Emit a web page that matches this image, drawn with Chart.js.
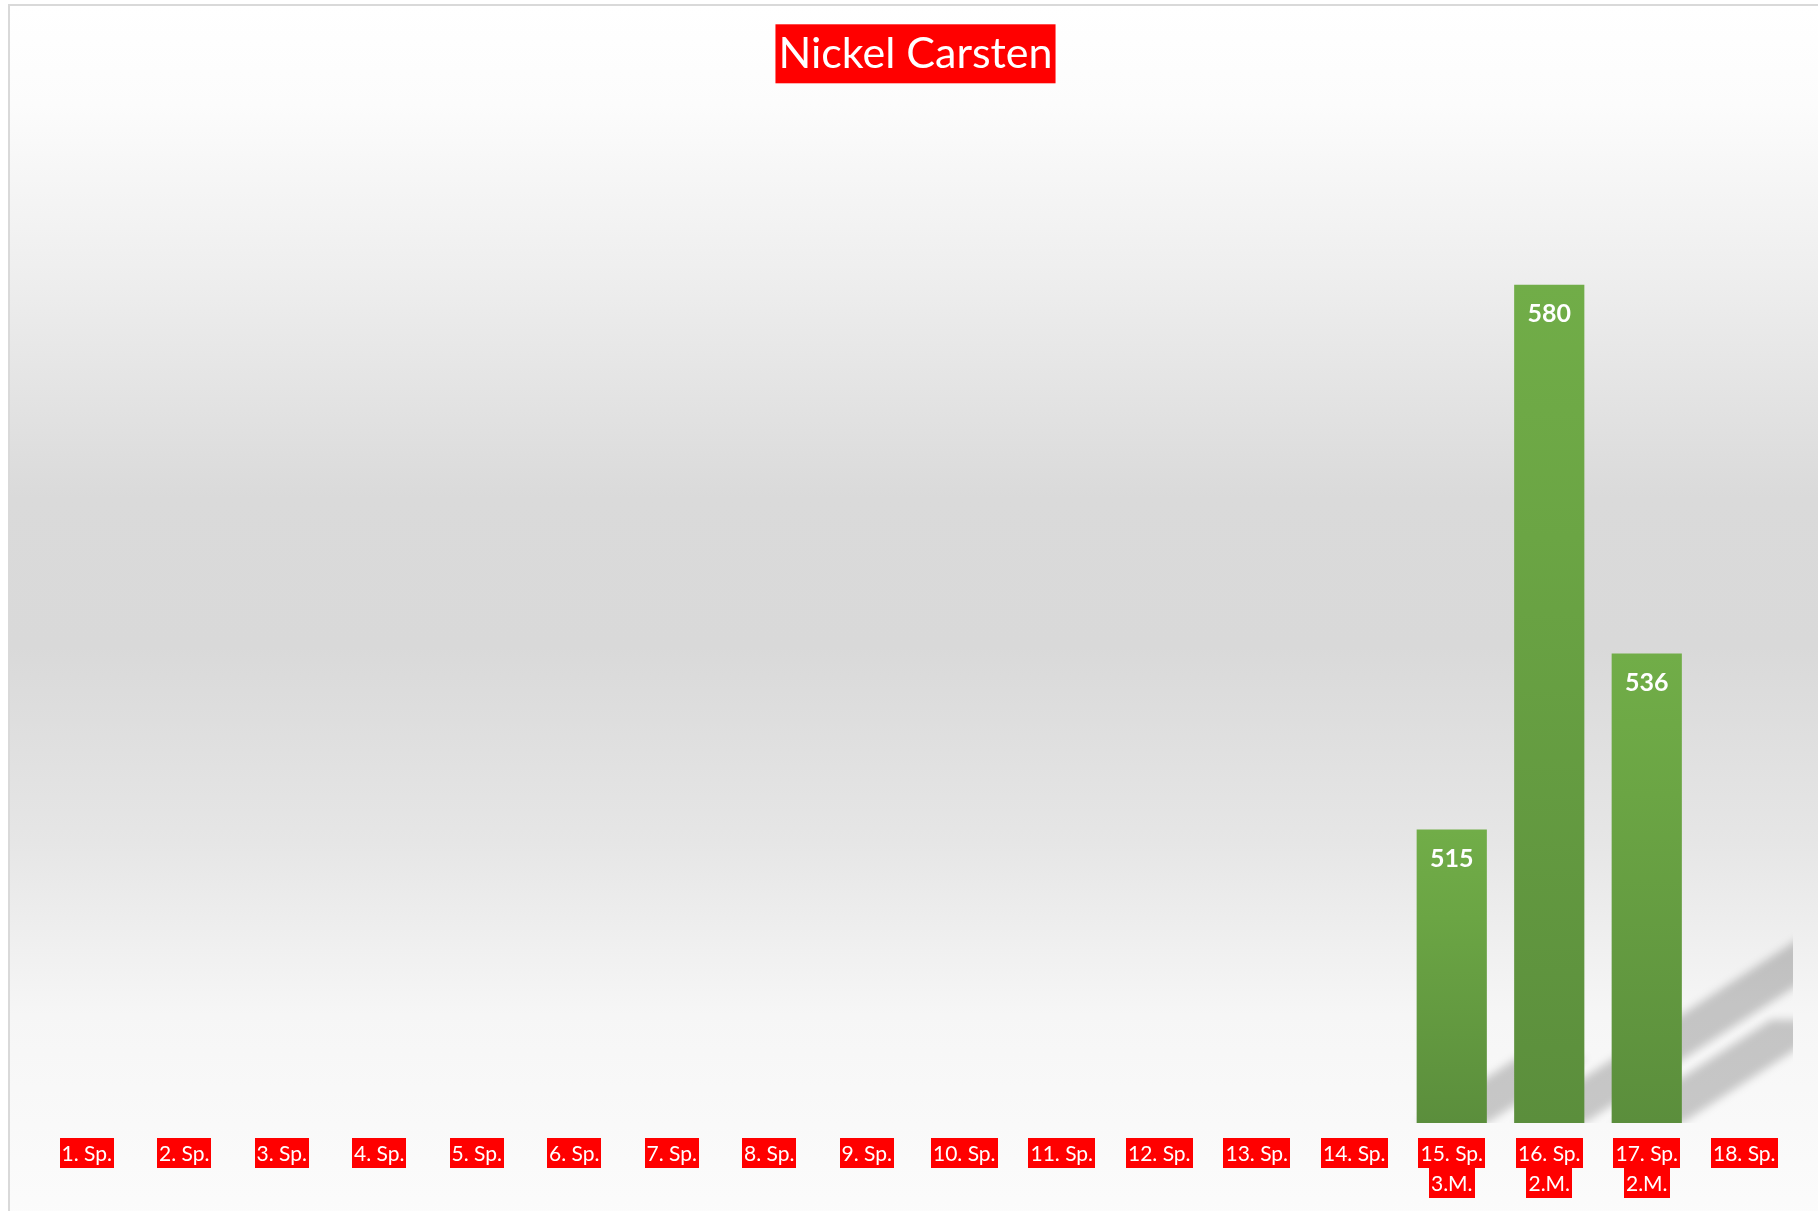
<!DOCTYPE html>
<html>
<head>
<meta charset="utf-8">
<script src="https://cdn.jsdelivr.net/npm/chart.js@4.4.0/dist/chart.umd.min.js"></script>
<style>
  html, body { margin: 0; padding: 0; width: 1818px; height: 1211px; overflow: hidden; background: #ffffff; }
  #frame {
    position: absolute; left: 8px; top: 4px; width: 1830px; height: 1230px;
    border-top: 2px solid #d9d9d9; border-left: 2px solid #d9d9d9;
    background: linear-gradient(to bottom, #ffffff 0%, #fcfcfc 8%, #eeeeee 22%, #dadada 40%, #d9d9d9 52%, #e6e6e6 68%, #f6f6f6 82%, #fcfcfc 100%);
  }
  #wrap { position: absolute; left: 0; top: 0; width: 1818px; height: 1211px; }
</style>
</head>
<body>
<div id="frame"></div>
<div id="wrap"><canvas id="c" width="1818" height="1211"></canvas></div>
<script>
const chartTitle = 'Nickel Carsten';
const categories = [
  '1. Sp.', '2. Sp.', '3. Sp.', '4. Sp.', '5. Sp.', '6. Sp.', '7. Sp.', '8. Sp.', '9. Sp.',
  '10. Sp.', '11. Sp.', '12. Sp.', '13. Sp.', '14. Sp.',
  ['15. Sp.', '3.M.'], ['16. Sp.', '2.M.'], ['17. Sp.', '2.M.'], '18. Sp.'
];
const seriesValues = [null, null, null, null, null, null, null, null, null,
  null, null, null, null, null, 515, 580, 536, null];
const yMin = 480;
const yMax = 600;

const FONT = 'Lato, "Noto Sans", sans-serif';
const TITLE_SIZE = 43;

const titleBackdrop = {
  id: 'titleBackdrop',
  beforeDraw(chart) {
    const tb = chart.titleBlock;
    if (!tb) return;
    const ctx = chart.ctx;
    ctx.save();
    ctx.font = TITLE_SIZE + 'px ' + FONT;
    const w = ctx.measureText(chartTitle).width;
    const cx = tb.left + tb.width / 2;
    const cy = tb.top + 28 + TITLE_SIZE * 1.2 / 2;
    ctx.fillStyle = '#ff0000';
    ctx.fillRect(cx - w / 2 - 3, cy - 29.5, w + 6, 59);
    ctx.restore();
  }
};

const barShadows = {
  id: 'barShadows',
  beforeDatasetsDraw(chart) {
    const ctx = chart.ctx;
    const area = chart.chartArea;
    const meta = chart.getDatasetMeta(0);
    const ys = chart.scales.y;
    const base = Math.min(ys.getPixelForValue(yMin), area.bottom);
    ctx.save();
    ctx.beginPath();
    ctx.rect(area.left, area.top, area.right - area.left, area.bottom - area.top);
    ctx.clip();
    ctx.filter = 'blur(4px)';
    ctx.fillStyle = 'rgba(0,0,0,0.2)';
    meta.data.forEach((bar, i) => {
      if (seriesValues[i] == null) return;
      const l = bar.x - bar.width / 2, r = bar.x + bar.width / 2;
      const h = base - bar.y;
      const dx = h * 0.34, dy = -h * 0.22;
      ctx.beginPath();
      ctx.moveTo(l, base);
      ctx.lineTo(r, base);
      ctx.lineTo(r + dx, base + dy);
      ctx.lineTo(l + dx, base + dy);
      ctx.closePath();
      ctx.fill();
    });
    ctx.restore();
  }
};

const valueLabels = {
  id: 'valueLabels',
  afterDatasetsDraw(chart) {
    const ctx = chart.ctx;
    const meta = chart.getDatasetMeta(0);
    ctx.save();
    ctx.font = 'bold 25px ' + FONT;
    ctx.fillStyle = '#ffffff';
    ctx.textAlign = 'center';
    ctx.textBaseline = 'middle';
    meta.data.forEach((bar, i) => {
      const v = seriesValues[i];
      if (v == null) return;
      ctx.fillText(String(v), bar.x, bar.y + 29);
    });
    ctx.restore();
  }
};

const categoryLabels = {
  id: 'categoryLabels',
  afterDraw(chart) {
    const ctx = chart.ctx;
    const xs = chart.scales.x;
    const top0 = chart.chartArea.bottom + 15;
    ctx.save();
    ctx.font = '21px ' + FONT;
    ctx.textAlign = 'center';
    ctx.textBaseline = 'middle';
    categories.forEach((lab, i) => {
      const lines = Array.isArray(lab) ? lab : [lab];
      const x = xs.getPixelForValue(i);
      lines.forEach((ln, j) => {
        const w = ctx.measureText(ln).width;
        const y = top0 + j * 30;
        ctx.fillStyle = '#ff0000';
        ctx.fillRect(Math.round(x - w / 2 - 2), y, Math.round(w + 4), 30);
        ctx.fillStyle = '#ffffff';
        ctx.fillText(ln, x, y + 16);
      });
    });
    ctx.restore();
  }
};

new Chart(document.getElementById('c'), {
  type: 'bar',
  data: {
    labels: categories,
    datasets: [{
      data: seriesValues,
      base: yMin,
      backgroundColor(ctx) {
        const chart = ctx.chart;
        const ys = chart.scales && chart.scales.y;
        if (!chart.chartArea || !ys || ctx.parsed == null || ctx.parsed.y == null) return '#6aa344';
        const top = ys.getPixelForValue(ctx.parsed.y);
        const base = ys.getPixelForValue(yMin);
        if (!isFinite(top) || !isFinite(base) || top === base) return '#6aa344';
        const g = chart.ctx.createLinearGradient(0, top, 0, base);
        g.addColorStop(0, '#71ad48');
        g.addColorStop(0.3, '#6ba544');
        g.addColorStop(1, '#5b8e3c');
        return g;
      },
      borderWidth: 0,
      barPercentage: 0.72,
      categoryPercentage: 1.0
    }]
  },
  options: {
    responsive: false,
    animation: false,
    layout: { padding: { left: 38, right: 25, top: 0, bottom: 88 } },
    plugins: {
      legend: { display: false },
      tooltip: { enabled: false },
      title: {
        display: true,
        text: chartTitle,
        color: '#ffffff',
        font: { family: FONT, size: TITLE_SIZE, weight: 'normal', lineHeight: 1.2 },
        padding: { top: 28, bottom: 37.4 }
      }
    },
    scales: {
      x: { display: false },
      y: { display: false, min: yMin, max: yMax }
    }
  },
  plugins: [titleBackdrop, barShadows, valueLabels, categoryLabels]
});
</script>
</body>
</html>
